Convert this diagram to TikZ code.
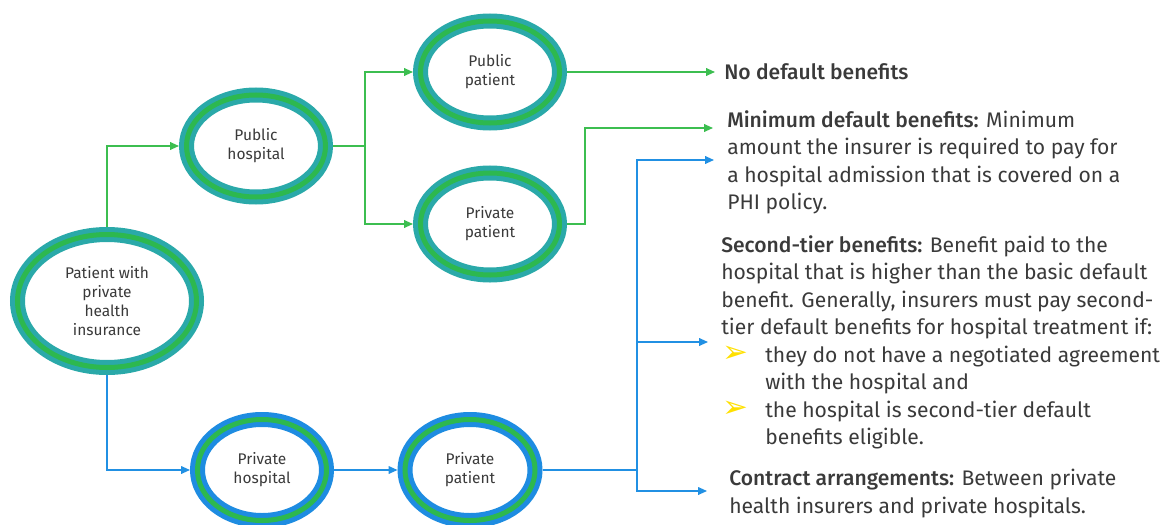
\documentclass[tikz,border=0pt]{standalone}
\usepackage{fontspec}
\setmainfont{Fira Sans}[BoldFont={Fira Sans Medium}]
\newfontfamily\symfont{DejaVu Sans}
\usetikzlibrary{shapes.geometric,arrows.meta}

\definecolor{ringteal}{HTML}{2AA9A9}
\definecolor{ringgreen}{HTML}{2DB84F}
\definecolor{ringblue}{HTML}{1E8CE1}
\definecolor{linegreen}{HTML}{3CBE50}
\definecolor{lineblue}{HTML}{2190E3}
\definecolor{bullety}{HTML}{FFE000}
\definecolor{txt}{HTML}{3A3A3A}

\newcommand{\arrowbullet}{\makebox[11mm][l]{\hspace{0.2mm}\textcolor{bullety}{\fontsize{22}{19.6}\symfont ➢}}}

\tikzset{
	ring/.style={ellipse, fill=white, line width=1.25mm, double distance=1.25mm,
		outer sep=1.875mm, inner sep=0pt, align=center, text=txt,
		font=\fontsize{11}{13.5}\selectfont},
	tealring/.style={ring, draw=ringteal, double=ringgreen},
	bluering/.style={ring, draw=ringblue, double=ringgreen},
	gline/.style={draw=linegreen, line width=1pt, -{Triangle[length=2.2mm,width=1.9mm]}},
	bline/.style={draw=lineblue, line width=1pt, -{Triangle[length=2.2mm,width=1.9mm]}},
	desc/.style={anchor=north west, inner sep=0pt, align=left, text=txt,
		font=\fontsize{15}{19.6}\selectfont},
}

\begin{document}
\begin{tikzpicture}[x=0.25mm, y=-0.25mm]
	\useasboundingbox (0,0) rectangle (1165,524);
	
	% Ellipses
	\node[tealring, minimum width=44.75mm, minimum height=33.25mm] (patient) at (107,301) {Patient with\\private\\health\\insurance};
	\node[tealring, minimum width=34.75mm, minimum height=25.5mm] (pubhosp) at (256,146) {Public\\hospital};
	\node[tealring, minimum width=34.75mm, minimum height=25.5mm] (pubpat) at (490,72) {Public\\patient};
	\node[tealring, minimum width=34.75mm, minimum height=25.5mm] (privpatg) at (490,224) {Private\\patient};
	\node[bluering, minimum width=32.25mm, minimum height=25.25mm] (privhosp) at (262,470) {Private\\hospital};
	\node[bluering, minimum width=32.5mm, minimum height=25.25mm] (privpatb) at (470,470) {Private\\patient};
	
	% Benefit texts
	\node[desc, anchor=west, font=\fontsize{15}{19.6}\selectfont\bfseries] (nodef) at (724,72) {No default benefits};
	\node[desc] (minblk) at (727,110) {{\bfseries Minimum default benefits:} Minimum\\
		amount the insurer is required to pay for\\
		a hospital admission that is covered on a\\
		PHI policy.};
	\node[desc] (secblk) at (721,235) {{\bfseries Second-tier benefits:} Benefit paid to the\\
		hospital that is higher than the basic default\\
		benefit. Generally, insurers must pay second-\\
		tier default benefits for hospital treatment if:\\
		\arrowbullet they do not have a negotiated agreement\\
		\hspace*{11mm}with the hospital and\\
		\arrowbullet the hospital is second-tier default\\
		\hspace*{11mm}benefits eligible.};
	\node[desc] (conblk) at (729,469) {{\bfseries Contract arrangements:} Between private\\
		health insurers and private hospitals.};
	
	% Arrow ends
	\coordinate (tomin) at (713,128);
	\coordinate (tominb) at (714,160);
	\coordinate (tosecond) at (708,342);
	\coordinate (tocontract) at (707,491);
	\coordinate (pubsplit) at (365,146);
	\coordinate (bluesplit) at (637,470);
	
	% Green connectors
	\draw[gline] (patient.north) |- (pubhosp.west);
	\draw[gline] (pubhosp.east) -- (pubsplit) |- (pubpat.west);
	\draw[gline] (pubsplit) |- (privpatg.west);
	\draw[gline] (pubpat.east) -- ([xshift=-2.25mm]nodef.west);
	\draw[gline] (privpatg.east) -- ++(18,0) |- (tomin);
	
	% Blue connectors
	\draw[bline] (patient.south) |- (privhosp.west);
	\draw[bline] (privhosp.east) -- (privpatb.west);
	\draw[bline] (privpatb.east) -- (bluesplit) |- (tominb);
	\draw[bline] (bluesplit) |- (tosecond);
	\draw[bline] (bluesplit) |- (tocontract);
	\draw[lineblue, line width=1.8pt] (bluesplit |- tosecond) -- ++(0,82);
\end{tikzpicture}
\end{document}
